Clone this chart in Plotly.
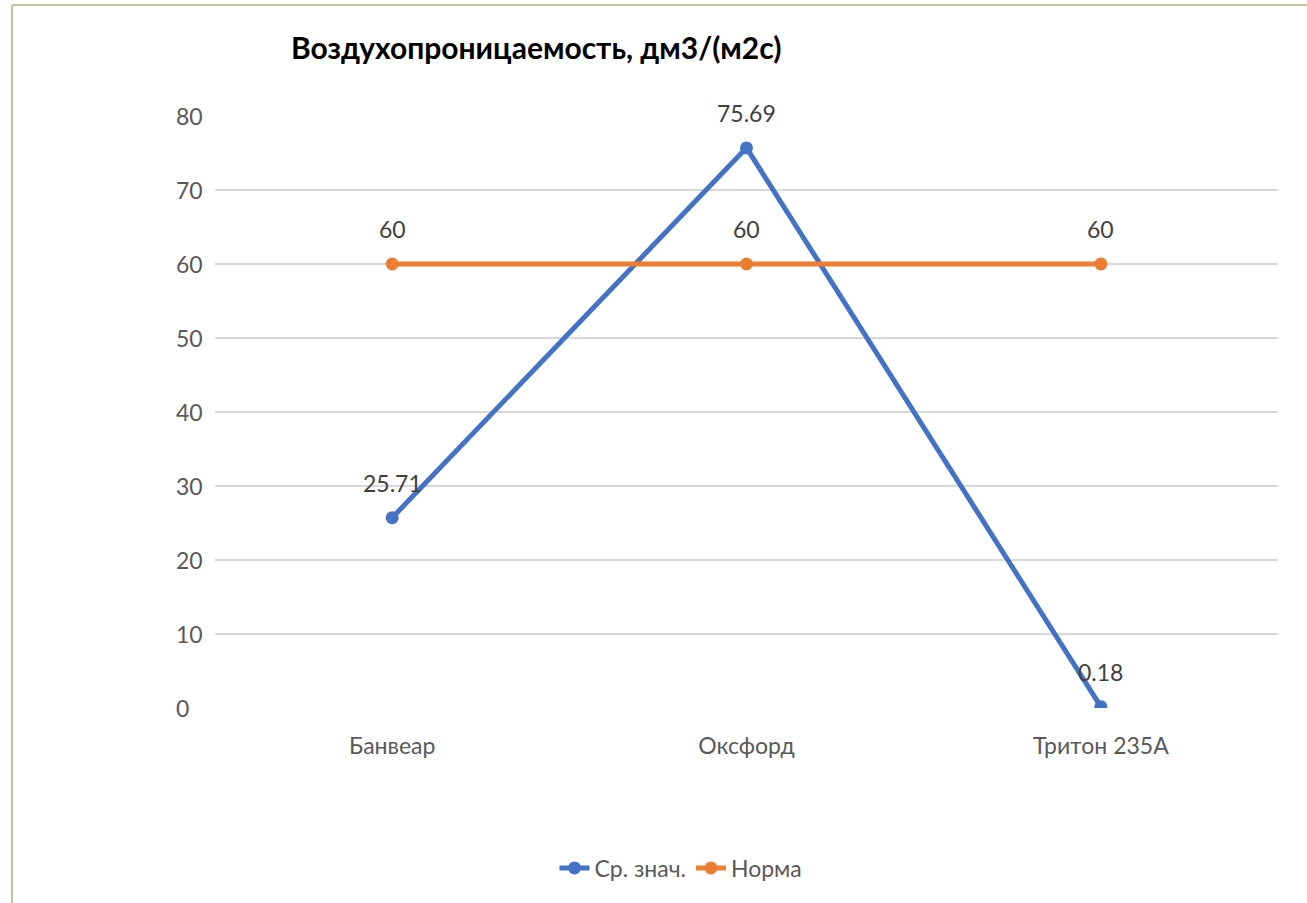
import plotly.graph_objects as go

categories = ["Банвеар", "Оксфорд", "Тритон 235А"]
mean_values = [25.71, 75.69, 0.18]
norm_values = [60, 60, 60]
y_ticks = [0, 10, 20, 30, 40, 50, 60, 70, 80]
title_text = "Воздухопроницаемость, дм3/(м2с)"
series_names = ["Ср. знач.", "Норма"]

W, H = 1307, 903
L, R, T, B = 215, 1278, 116, 708  # plot area pixel box


def px_x(p):
    return (p - L) / (R - L)


def px_y(p):
    return (B - p) / (B - T)


FONT = "Lato"
GRAY = "#595959"
BLUE = "#4472C4"
ORANGE = "#ED7D31"

fig = go.Figure()
fig.add_trace(go.Scatter(x=categories, y=mean_values, name=series_names[0],
                         mode="lines+markers",
                         line=dict(color=BLUE, width=5),
                         marker=dict(color=BLUE, size=13)))
fig.add_trace(go.Scatter(x=categories, y=norm_values, name=series_names[1],
                         mode="lines+markers",
                         line=dict(color=ORANGE, width=5),
                         marker=dict(color=ORANGE, size=13)))

annotations = []
for series in (mean_values, norm_values):
    for c, v in zip(categories, series):
        annotations.append(dict(x=c, y=v, xref="x", yref="y", text=f"{v:g}",
                                showarrow=False, yshift=35,
                                font=dict(family=FONT, size=23, color="#404040")))
for t in y_ticks:
    annotations.append(dict(x=px_x(174), y=t, xref="paper", yref="y", text=str(t),
                            showarrow=False, xanchor="left",
                            font=dict(family=FONT, size=23, color=GRAY)))
annotations.append(dict(x=px_x(289), y=px_y(47), xref="paper", yref="paper",
                        text=f"<b>{title_text}</b>", showarrow=False,
                        xanchor="left", yanchor="middle",
                        font=dict(family=FONT, size=30, color="#000000")))

border = "#b9c9a2"
shapes = [
    dict(type="line", xref="paper", yref="paper", x0=px_x(12), x1=px_x(W), y0=px_y(5), y1=px_y(5),
         line=dict(color=border, width=2)),
    dict(type="line", xref="paper", yref="paper", x0=px_x(12), x1=px_x(12), y0=px_y(5), y1=px_y(H),
         line=dict(color=border, width=2)),
]

fig.update_layout(
    width=W, height=H,
    margin=dict(l=L, r=W - R, t=T, b=H - B, pad=0),
    paper_bgcolor="white", plot_bgcolor="white",
    showlegend=True,
    legend=dict(orientation="h", x=px_x(681), xanchor="center", y=px_y(868), yanchor="middle",
                font=dict(family=FONT, size=23, color=GRAY), itemwidth=30,
                bgcolor="rgba(0,0,0,0)"),
    annotations=annotations,
    shapes=shapes,
    xaxis=dict(type="category", range=[-0.5, 2.5], showgrid=False, zeroline=False,
               showline=False, ticks="", ticklabelstandoff=22,
               tickfont=dict(family=FONT, size=23, color=GRAY)),
    yaxis=dict(range=[0, 80], tickvals=y_ticks, showticklabels=False,
               showgrid=True, gridcolor="#d9d9d9", gridwidth=1.5,
               zeroline=False, showline=False),
)

fig.write_html("out.html")
